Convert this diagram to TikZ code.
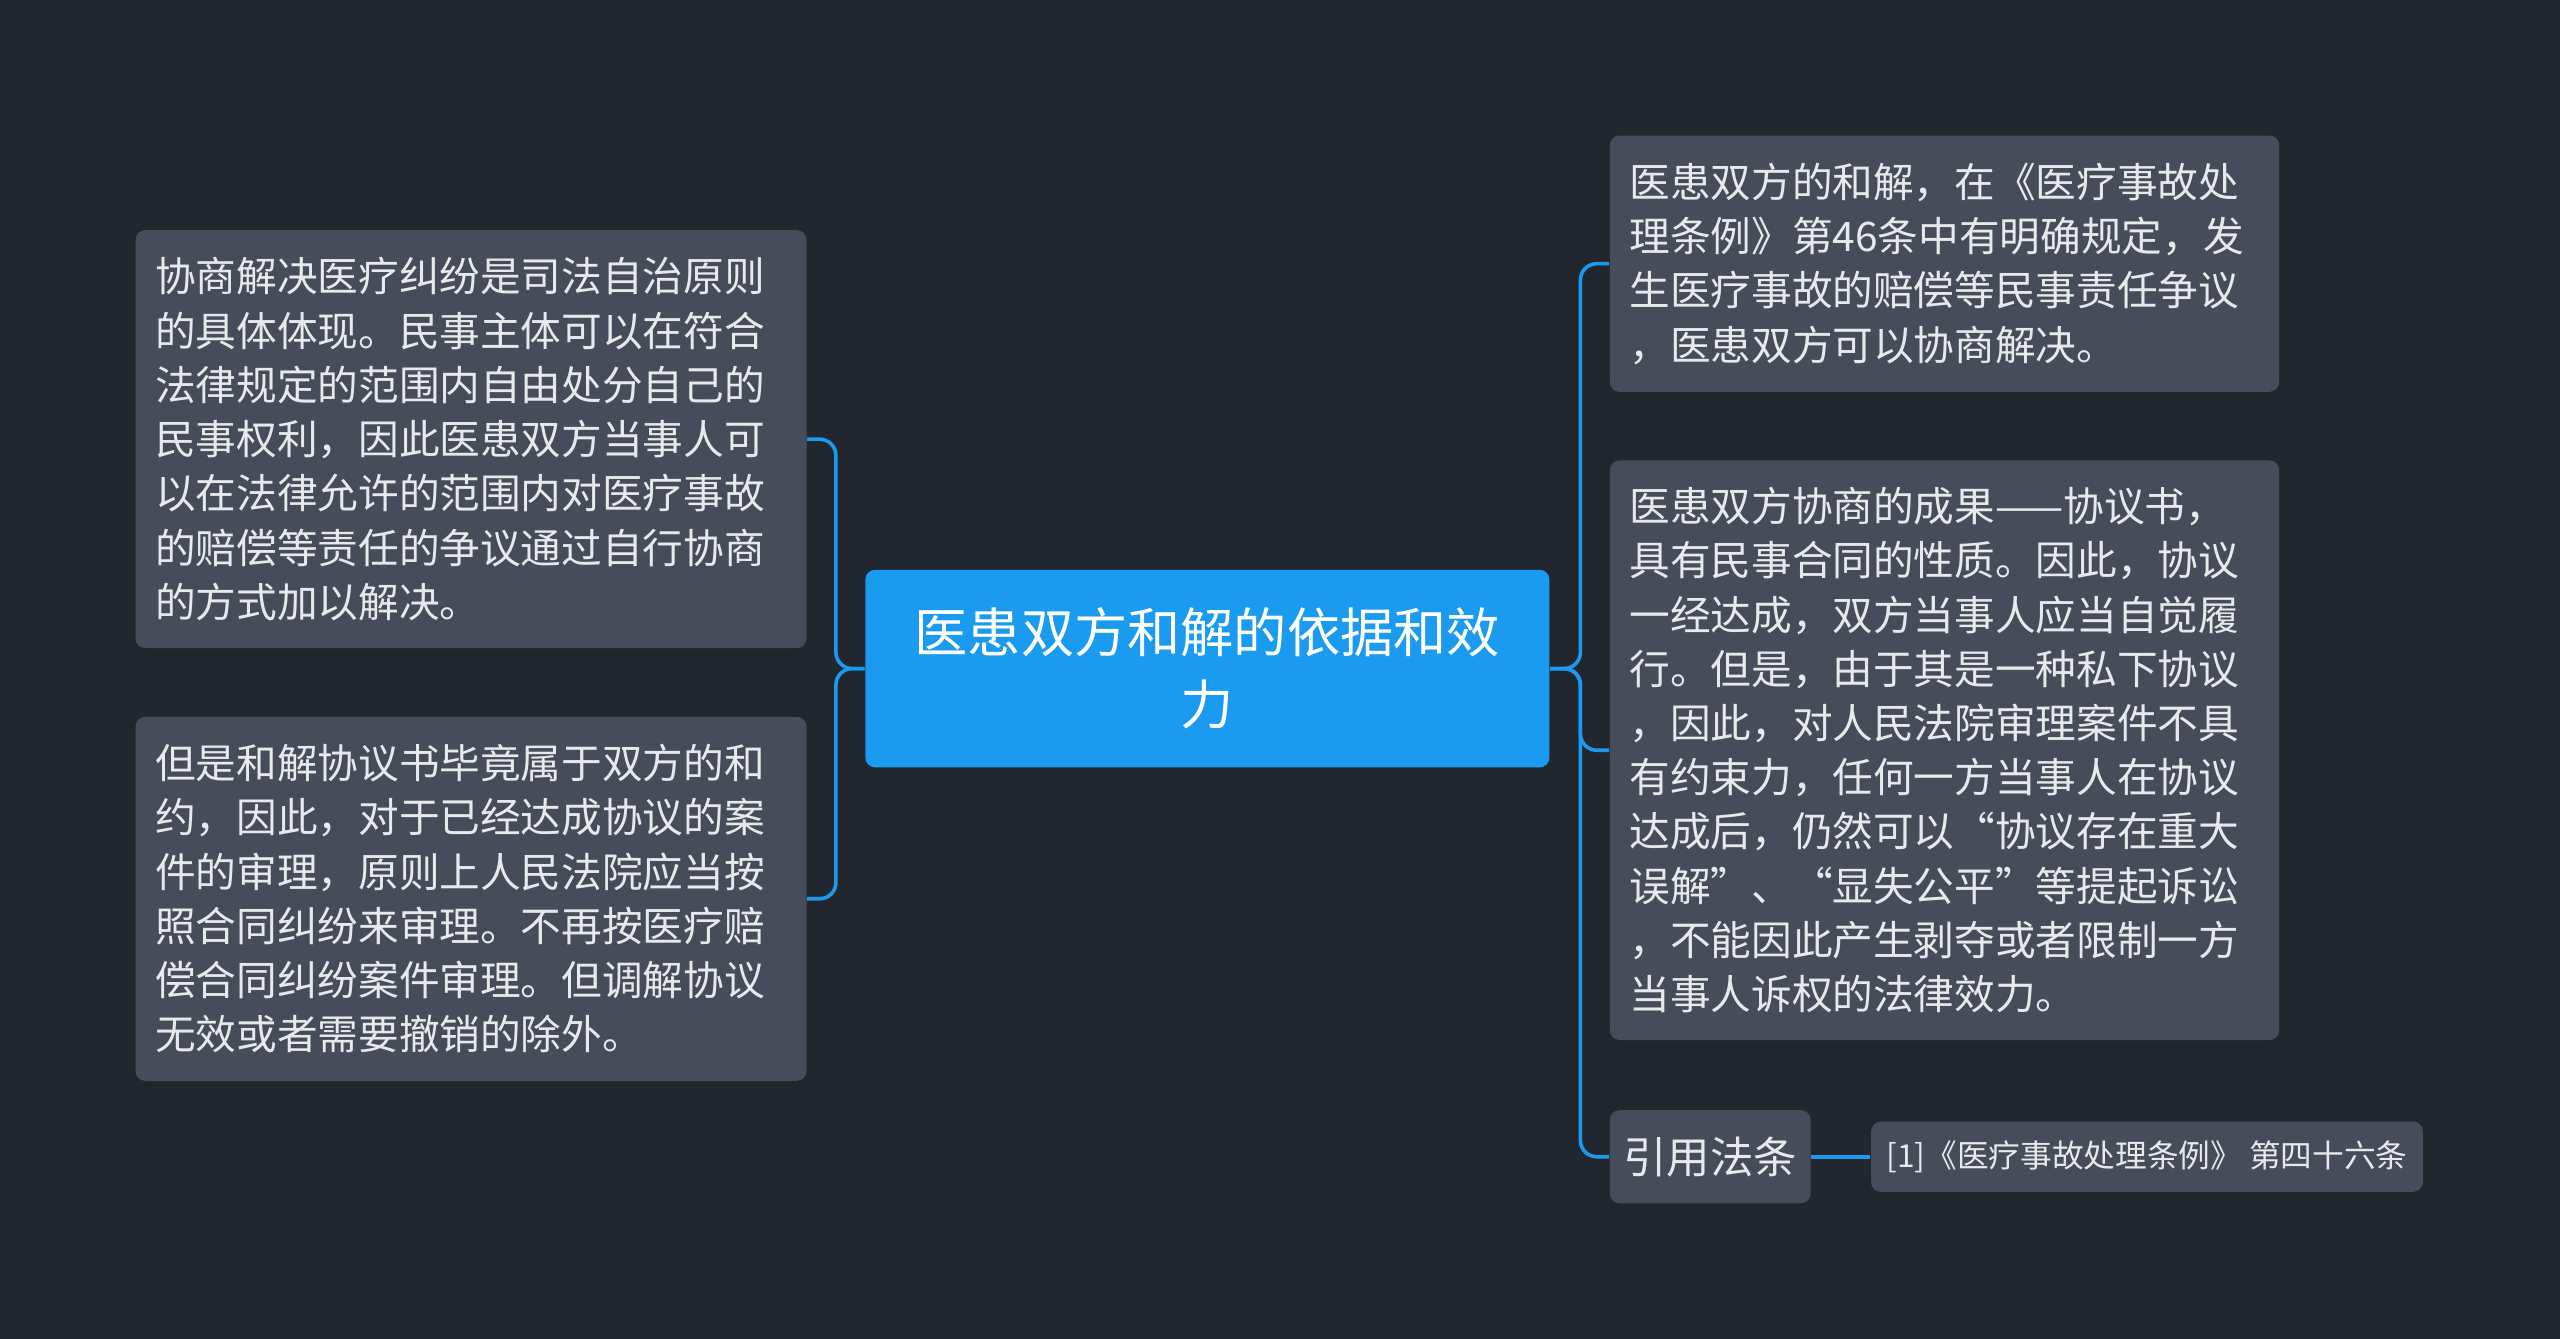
\documentclass[tikz,border=0pt]{standalone}
\usepackage{fontspec}
\setmainfont{Noto Sans CJK SC}
\begin{document}
\begin{tikzpicture}[x=0.5pt,y=-0.5pt,
  box/.style={fill=boxc,rounded corners=3pt,text=txt,align=left,inner xsep=6pt,inner ysep=0pt,font=\fontsize{12.45}{16.6}\selectfont},
  conn/.style={draw=blu,line width=1.1pt,rounded corners=5pt}]
\definecolor{bg}{HTML}{22262F}
\definecolor{boxc}{HTML}{474C5A}
\definecolor{txt}{HTML}{E8E9EC}
\definecolor{blu}{HTML}{1A9BEF}
\fill[bg] (0,0) rectangle (1568,820);
\node[fill=blu,rounded corners=3pt,text=white,align=center,minimum width=209.5pt,minimum height=60.5pt,inner sep=0pt,font=\fontsize{16.3}{22}\selectfont] (c) at (739.5,409.5) {医患双方和解的依据和效\\力};
\node[box,text width=193.5pt,minimum height=128pt] (l1) at (288.5,269) {协商解决医疗纠纷是司法自治原则\\的具体体现。民事主体可以在符合\\法律规定的范围内自由处分自己的\\民事权利，因此医患双方当事人可\\以在法律允许的范围内对医疗事故\\的赔偿等责任的争议通过自行协商\\的方式加以解决。};
\node[box,text width=193.5pt,minimum height=111.5pt] (l2) at (288.5,550.5) {但是和解协议书毕竟属于双方的和\\约，因此，对于已经达成协议的案\\件的审理，原则上人民法院应当按\\照合同纠纷来审理。不再按医疗赔\\偿合同纠纷案件审理。但调解协议\\无效或者需要撤销的除外。};
\node[box,text width=193pt,minimum height=78.5pt] (r1) at (1191,161.5) {医患双方的和解，在《医疗事故处\\理条例》第46条中有明确规定，发\\生医疗事故的赔偿等民事责任争议\\，医患双方可以协商解决。};
\node[box,text width=193pt,minimum height=177.5pt] (r2) at (1191,459.5) {医患双方协商的成果——协议书，\\具有民事合同的性质。因此，协议\\一经达成，双方当事人应当自觉履\\行。但是，由于其是一种私下协议\\，因此，对人民法院审理案件不具\\有约束力，任何一方当事人在协议\\达成后，仍然可以“协议存在重大\\误解”、“显失公平”等提起诉讼\\，不能因此产生剥夺或者限制一方\\当事人诉权的法律效力。};
\node[box,align=center,minimum width=61.5pt,minimum height=28.5pt,inner xsep=0pt,font=\fontsize{13.3}{16}\selectfont] (r3) at (1047.5,708.5) {引用法条};
\node[box,align=center,minimum width=169pt,minimum height=21.5pt,inner xsep=0pt,font=\fontsize{9.7}{12}\selectfont] (ref) at (1315,708.5) {[1]《医疗事故处理条例》 第四十六条};
\draw[conn] (c.west) -- (512,409.5) |- (l1.east);
\draw[conn] (c.west) -- (512,409.5) |- (l2.east);
\draw[conn] (c.east) -- (968,409.5) |- (r1.west);
\draw[conn] (c.east) -- (968,409.5) |- (r2.west);
\draw[conn] (c.east) -- (968,409.5) |- (r3.west);
\draw[conn] (r3.east) -- (ref.west);
\end{tikzpicture}
\end{document}
